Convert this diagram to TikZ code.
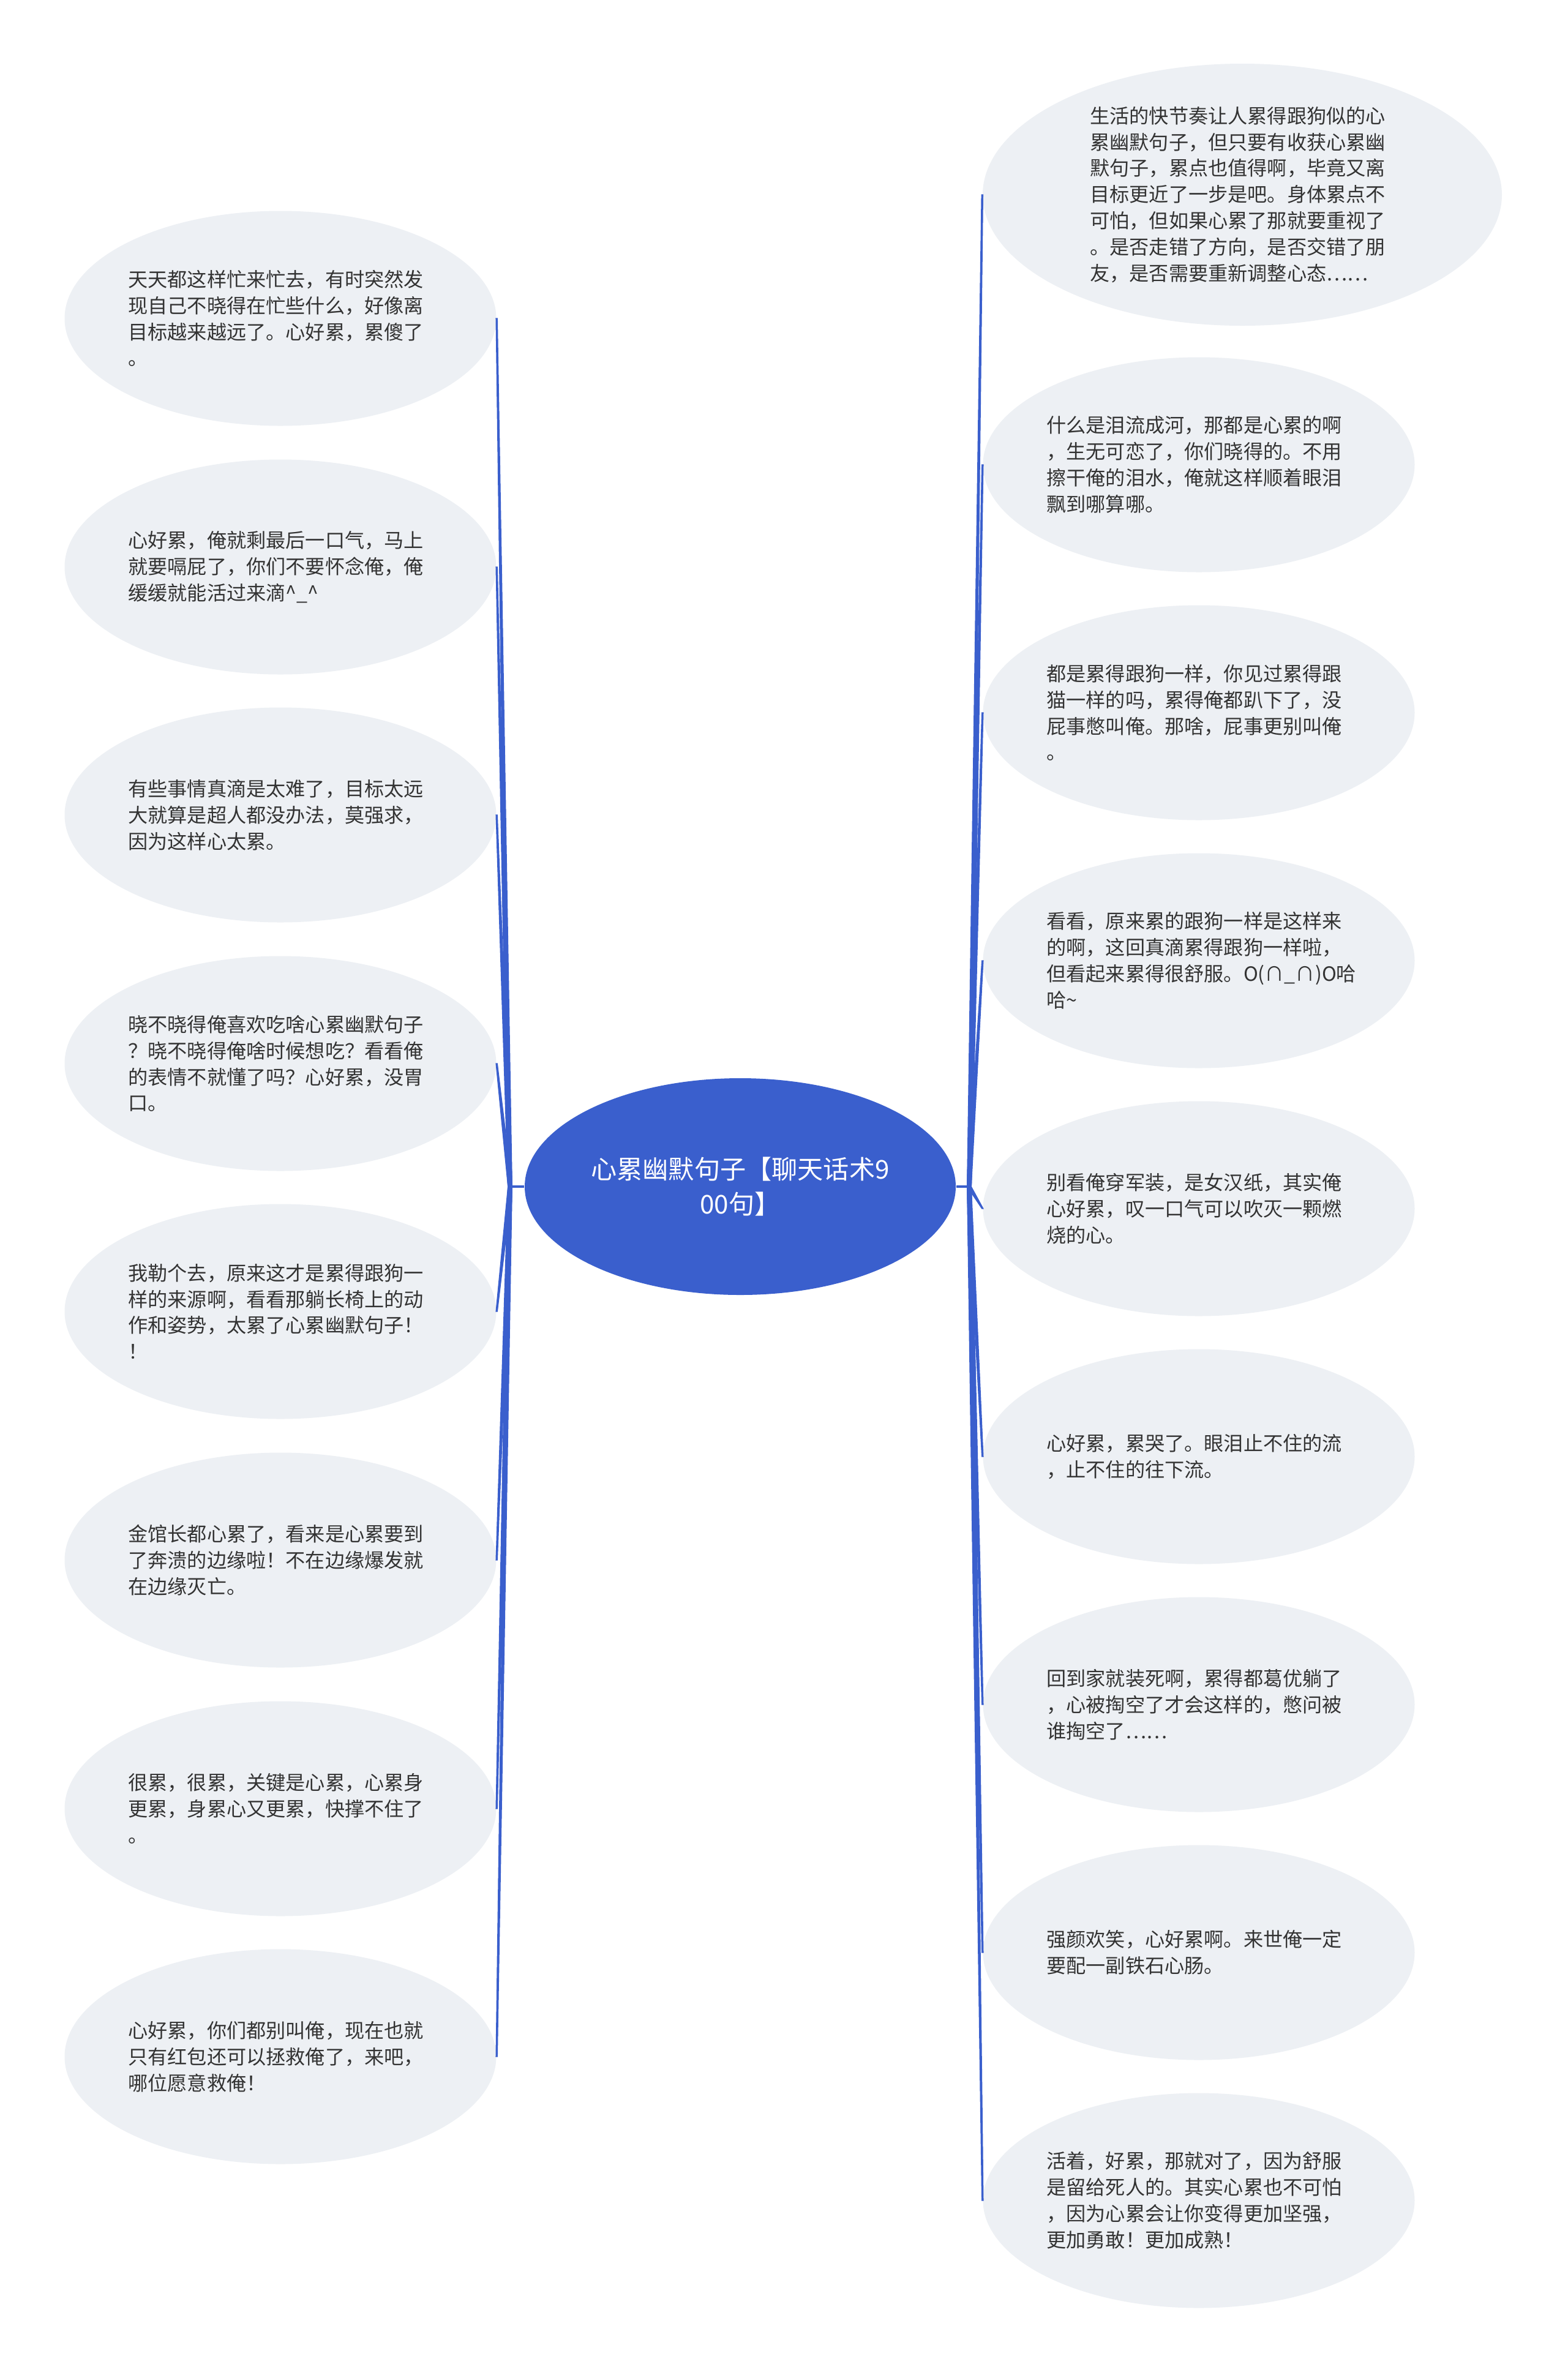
\documentclass[tikz,border=0pt]{standalone}
\usepackage{fontspec}
\newfontfamily\cjk{Noto Sans CJK SC}
\usetikzlibrary{shapes.geometric}
\definecolor{mmblue}{HTML}{3A5FCD}
\definecolor{mmleaf}{HTML}{EDF0F4}
\definecolor{mmtext}{HTML}{333333}

\begin{document}
\begin{tikzpicture}[
    root/.style={
        ellipse, fill=mmblue, text=white, inner sep=0pt,
        minimum width=7.04cm, minimum height=3.54cm, align=center,
        font=\cjk\fontsize{12pt}{16.2pt}\selectfont
    },
    leaf/.style={
        ellipse, fill=mmleaf, text=mmtext, inner sep=0pt,
        minimum width=7.05cm, minimum height=3.51cm,
        text width=4.97cm, align=left,
        font=\cjk\fontsize{9.15pt}{12.2pt}\selectfont
    },
    bigleaf/.style={ leaf, minimum width=8.48cm, minimum height=4.28cm },
    stub/.style={draw=mmblue, line width=1.2pt},
    taper/.style={
        fill=mmblue, draw=mmblue, line width=0.3pt,
        to path={([xshift=-0.034cm]\tikztostart) -- ([xshift=-0.012cm]\tikztotarget)
            -- ([xshift=0.012cm]\tikztotarget) -- ([xshift=0.034cm]\tikztostart) -- cycle}
    },
]
\path[use as bounding box, fill=white] (0,0) rectangle (25.6,-38.79);

% ---- centre ----
\node[root] (root) at (12.09,-19.38) {心累幽默句子【聊天话术9\\00句】};
\coordinate (hubL) at (8.33,-19.38);
\coordinate (hubR) at (15.83,-19.38);

% ---- left column, top to bottom ----
\node[leaf] (l1) at (4.58,-5.20)
    {天天都这样忙来忙去，有时突然发\\现自己不晓得在忙些什么，好像离\\目标越来越远了。心好累，累傻了\\。};
\node[leaf] (l2) at (4.58,-9.26)
    {心好累，俺就剩最后一口气，马上\\就要嗝屁了，你们不要怀念俺，俺\\缓缓就能活过来滴\textasciicircum\_\textasciicircum};
\node[leaf] (l3) at (4.58,-13.31)
    {有些事情真滴是太难了，目标太远\\大就算是超人都没办法，莫强求，\\因为这样心太累。};
\node[leaf] (l4) at (4.58,-17.37)
    {晓不晓得俺喜欢吃啥心累幽默句子\\？晓不晓得俺啥时候想吃？看看俺\\的表情不就懂了吗？心好累，没胃\\口。};
\node[leaf] (l5) at (4.58,-21.42)
    {我勒个去，原来这才是累得跟狗一\\样的来源啊，看看那躺长椅上的动\\作和姿势，太累了心累幽默句子！\\！};
\node[leaf] (l6) at (4.58,-25.48)
    {金馆长都心累了，看来是心累要到\\了奔溃的边缘啦！不在边缘爆发就\\在边缘灭亡。};
\node[leaf] (l7) at (4.58,-29.54)
    {很累，很累，关键是心累，心累身\\更累，身累心又更累，快撑不住了\\。};
\node[leaf] (l8) at (4.58,-33.59)
    {心好累，你们都别叫俺，现在也就\\只有红包还可以拯救俺了，来吧，\\哪位愿意救俺！};

% ---- right column, top to bottom ----
\node[bigleaf] (r1) at (20.29,-3.18)
    {生活的快节奏让人累得跟狗似的心\\累幽默句子，但只要有收获心累幽\\默句子，累点也值得啊，毕竟又离\\目标更近了一步是吧。身体累点不\\可怕，但如果心累了那就要重视了\\。是否走错了方向，是否交错了朋\\友，是否需要重新调整心态……};
\node[leaf] (r2) at (19.58,-7.59)
    {什么是泪流成河，那都是心累的啊\\，生无可恋了，你们晓得的。不用\\擦干俺的泪水，俺就这样顺着眼泪\\飘到哪算哪。};
\node[leaf] (r3) at (19.58,-11.64)
    {都是累得跟狗一样，你见过累得跟\\猫一样的吗，累得俺都趴下了，没\\屁事憋叫俺。那啥，屁事更别叫俺\\。};
\node[leaf] (r4) at (19.58,-15.69)
    {看看，原来累的跟狗一样是这样来\\的啊，这回真滴累得跟狗一样啦，\\但看起来累得很舒服。O(∩\_∩)O哈\\哈\textasciitilde};
\node[leaf] (r5) at (19.58,-19.74)
    {别看俺穿军装，是女汉纸，其实俺\\心好累，叹一口气可以吹灭一颗燃\\烧的心。};
\node[leaf] (r6) at (19.58,-23.79)
    {心好累，累哭了。眼泪止不住的流\\，止不住的往下流。};
\node[leaf] (r7) at (19.58,-27.84)
    {回到家就装死啊，累得都葛优躺了\\，心被掏空了才会这样的，憋问被\\谁掏空了……};
\node[leaf] (r8) at (19.58,-31.89)
    {强颜欢笑，心好累啊。来世俺一定\\要配一副铁石心肠。};
\node[leaf] (r9) at (19.58,-35.94)
    {活着，好累，那就对了，因为舒服\\是留给死人的。其实心累也不可怕\\，因为心累会让你变得更加坚强，\\更加勇敢！更加成熟！};

% ---- connectors ----
\draw[stub] (root.west) -- (hubL);
\draw[stub] (root.east) -- (hubR);
\draw[taper] (hubL) to (l1.east);
\draw[taper] (hubL) to (l2.east);
\draw[taper] (hubL) to (l3.east);
\draw[taper] (hubL) to (l4.east);
\draw[taper] (hubL) to (l5.east);
\draw[taper] (hubL) to (l6.east);
\draw[taper] (hubL) to (l7.east);
\draw[taper] (hubL) to (l8.east);
\draw[taper] (hubR) to (r1.west);
\draw[taper] (hubR) to (r2.west);
\draw[taper] (hubR) to (r3.west);
\draw[taper] (hubR) to (r4.west);
\draw[taper] (hubR) to (r5.west);
\draw[taper] (hubR) to (r6.west);
\draw[taper] (hubR) to (r7.west);
\draw[taper] (hubR) to (r8.west);
\draw[taper] (hubR) to (r9.west);

\end{tikzpicture}
\end{document}
